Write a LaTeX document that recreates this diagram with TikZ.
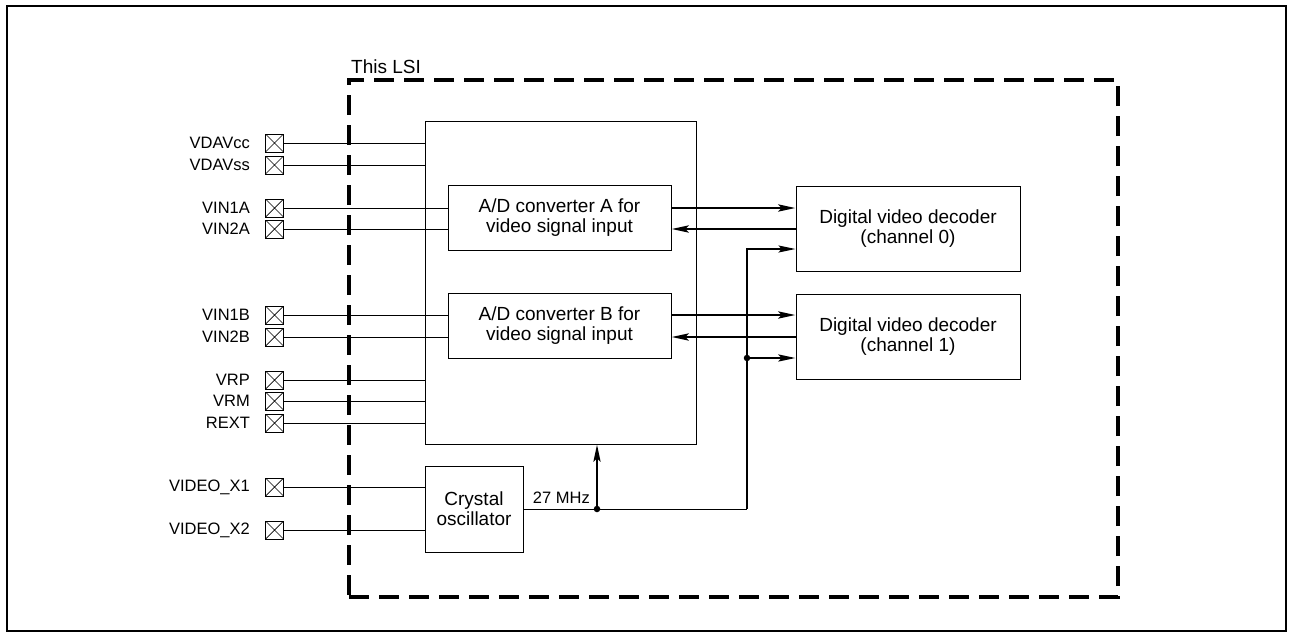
\documentclass[tikz,border=0pt]{standalone}
\usepackage{fontspec}
\setmainfont{Liberation Sans}
\usetikzlibrary{positioning,arrows.meta}

\begin{document}
\begin{tikzpicture}[
    x=1pt,
    y=-1pt,
    >={Stealth[length=17pt,width=7pt,inset=3pt]},
    block/.style={
        draw,
        line width=1pt,
        align=center,
        inner sep=0pt,
        font=\fontsize{19}{20}\selectfont
    },
    pinbox/.style={
        draw,
        line width=0.9pt,
        minimum size=18pt,
        inner sep=0pt,
        path picture={
            \draw[line width=0.7pt]
                (path picture bounding box.south west) --
                (path picture bounding box.north east)
                (path picture bounding box.north west) --
                (path picture bounding box.south east);
        }
    },
    pinname/.style={
        inner sep=0pt,
        font=\fontsize{16.5}{18}\selectfont
    },
    wire/.style={line width=1pt},
    bus/.style={->, line width=2.8pt},
    dot/.style={circle, fill, inner sep=0pt, minimum size=6.5pt}
]
    \useasboundingbox (0,0) rectangle (1291,637);
    \draw[line width=2pt] (7,6) rectangle (1286,631);

    % LSI boundary
    \node[
        draw,
        line width=4pt,
        dash pattern=on 20pt off 10pt,
        minimum width=769pt,
        minimum height=517pt,
        inner sep=0pt
    ] (lsi) at (733.5,338.5) {};
    \node[anchor=base west, inner sep=0pt,
        font=\fontsize{19}{20}\selectfont]
        (lsi-name) at ([xshift=4pt,yshift=5pt]lsi.north west) {This LSI};

    \node[block, minimum width=271pt, minimum height=323pt] (adc) at (560.5,282.5) {};
    \node[block, minimum width=223pt, minimum height=65pt] (adcA) at (559.5,217.5)
        {A/D converter A for\\video signal input};
    \node[block, minimum width=223pt, minimum height=65pt] (adcB) at (559.5,325.5)
        {A/D converter B for\\video signal input};

    \node[block, minimum width=224pt, minimum height=85pt] (dec0) at (908,228.5)
        {Digital video decoder\\(channel 0)};
    \node[block, minimum width=224pt, minimum height=85pt] (dec1) at (908,336.5)
        {Digital video decoder\\(channel 1)};

    \node[block, minimum width=98pt, minimum height=86pt] (xtal) at (474,509)
        {Crystal\\oscillator};

    % pins
    \node[pinbox] (vdavcc) at (274.5,143) {};
    \node[pinbox] (vdavss) at (274.5,165) {};
    \node[pinbox] (vin1a) at (274.5,208) {};
    \node[pinbox] (vin2a) at (274.5,229) {};
    \node[pinbox] (vin1b) at (274.5,315) {};
    \node[pinbox] (vin2b) at (274.5,337) {};
    \node[pinbox] (vrp) at (274.5,380) {};
    \node[pinbox] (vrm) at (274.5,401) {};
    \node[pinbox] (rext) at (274.5,423) {};
    \node[pinbox] (videox1) at (274.5,487) {};
    \node[pinbox] (videox2) at (274.5,530) {};

    \node[pinname, left=15pt of vdavcc] (vdavcc-l) {VDAVcc};
    \node[pinname, left=15pt of vdavss] (vdavss-l) {VDAVss};
    \node[pinname, left=15pt of vin1a] (vin1a-l) {VIN1A};
    \node[pinname, left=15pt of vin2a] (vin2a-l) {VIN2A};
    \node[pinname, left=15pt of vin1b] (vin1b-l) {VIN1B};
    \node[pinname, left=15pt of vin2b] (vin2b-l) {VIN2B};
    \node[pinname, left=15pt of vrp] (vrp-l) {VRP};
    \node[pinname, left=15pt of vrm] (vrm-l) {VRM};
    \node[pinname, left=15pt of rext] (rext-l) {REXT};
    \node[pinname, left=15pt of videox1] (videox1-l) {VIDEO\_X1};
    \node[pinname, left=15pt of videox2] (videox2-l) {VIDEO\_X2};

    \draw[wire] (vdavcc.east) -- (vdavcc.east -| adc.west);
    \draw[wire] (vdavss.east) -- (vdavss.east -| adc.west);
    \draw[wire] (vin1a.east) -- (vin1a.east -| adcA.west);
    \draw[wire] (vin2a.east) -- (vin2a.east -| adcA.west);
    \draw[wire] (vin1b.east) -- (vin1b.east -| adcB.west);
    \draw[wire] (vin2b.east) -- (vin2b.east -| adcB.west);
    \draw[wire] (vrp.east) -- (vrp.east -| adc.west);
    \draw[wire] (vrm.east) -- (vrm.east -| adc.west);
    \draw[wire] (rext.east) -- (rext.east -| adc.west);
    \draw[wire] (videox1.east) -- (videox1.east -| xtal.west);
    \draw[wire] (videox2.east) -- (videox2.east -| xtal.west);

    % data paths
    \draw[bus] ([yshift=9.5pt]adcA.east) -- ([yshift=9.5pt]adcA.east -| dec0.west);
    \draw[bus] ([yshift=-11.5pt]adcA.east -| dec0.west) -- ([yshift=-11.5pt]adcA.east);
    \draw[bus] ([yshift=10.5pt]adcB.east) -- ([yshift=10.5pt]adcB.east -| dec1.west);
    \draw[bus] ([yshift=-11.5pt]adcB.east -| dec1.west) -- ([yshift=-11.5pt]adcB.east);

    % 27 MHz clock
    \node[dot] (clk) at (597,509) {};
    \coordinate (bend) at (747,509);
    \coordinate (ck0) at ([yshift=-20.5pt]dec0.west);
    \coordinate (ck1) at ([yshift=-21.5pt]dec1.west);
    \node[dot] (tap) at (bend |- ck1) {};

    \draw[wire] (xtal.east) -- (bend);
    \draw[wire, ->, line width=1.5pt] (bend) |- (ck0);
    \draw[bus, line width=2.5pt] (tap) -- (ck1);
    \draw[bus, line width=2.5pt] (clk.center) -- (clk |- adc.south);
    \node[anchor=base east, inner sep=0pt,
        font=\fontsize{16.5}{18}\selectfont]
        (freq) at ([xshift=-7pt,yshift=6pt]clk.center) {27 MHz};
\end{tikzpicture}
\end{document}
